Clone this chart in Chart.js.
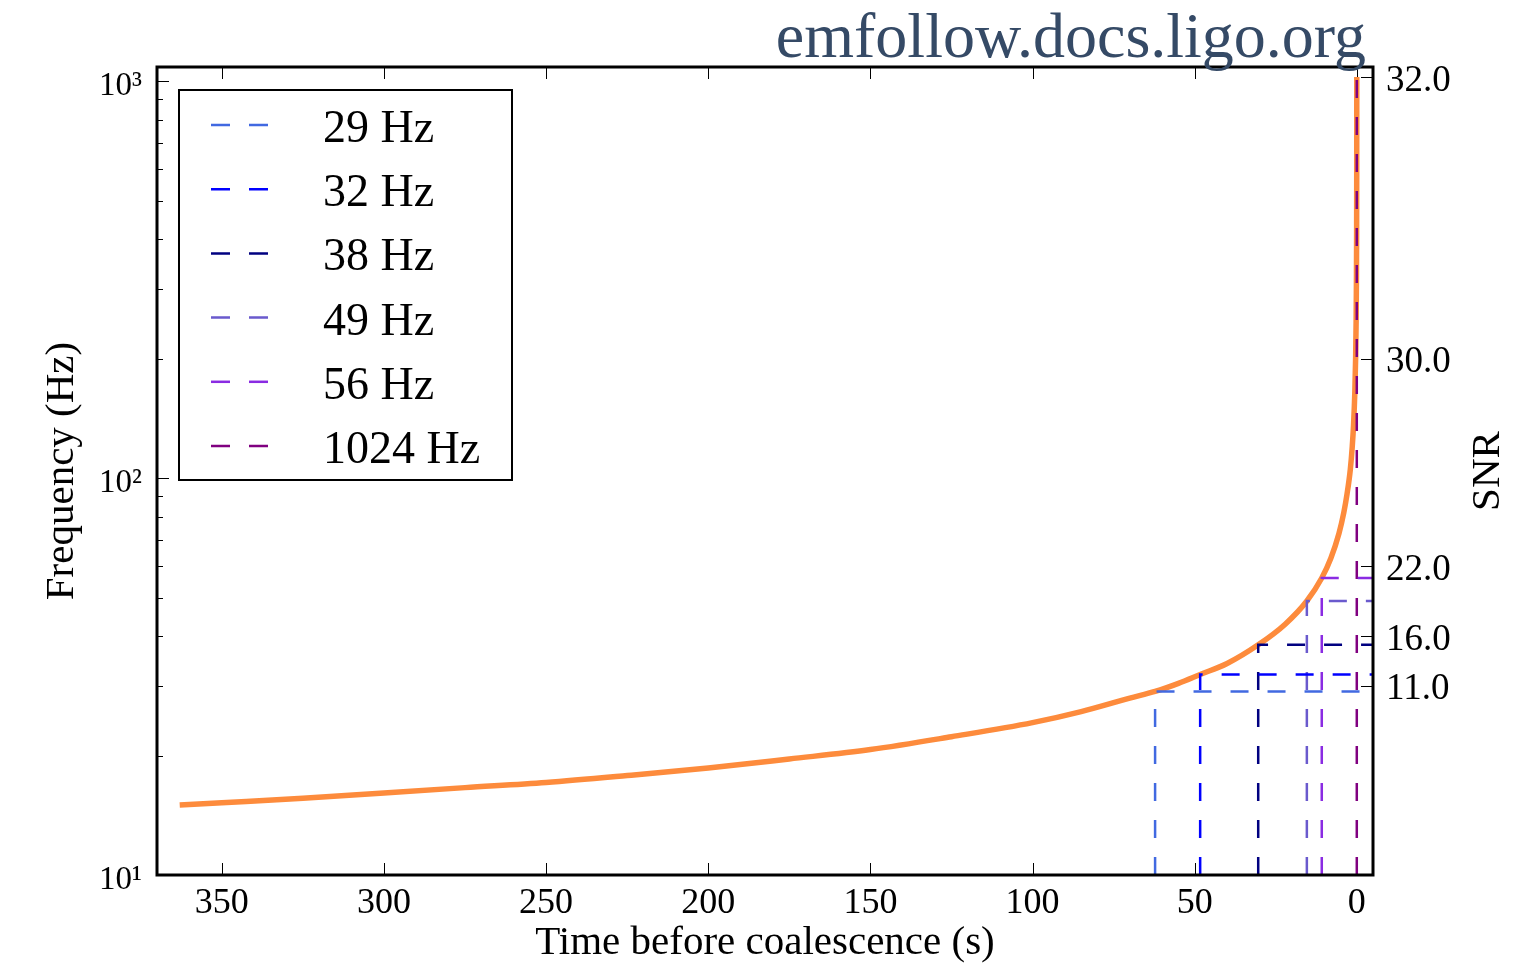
<!DOCTYPE html>
<html>
<head>
<meta charset="utf-8">
<title>Frequency vs time before coalescence</title>
<script src="https://cdn.jsdelivr.net/npm/chart.js@4.4.1/dist/chart.umd.min.js"></script>
<style>
  html, body { margin: 0; padding: 0; background: #fff; }
  #wrap { width: 1533px; height: 964px; }
</style>
</head>
<body>
<div id="wrap"><canvas id="chirpChart" width="1533" height="964"></canvas></div>
<script>
// chirp track: seconds before merger -> frequency (Hz)
const chirpTimes = [363, 350, 325, 300, 275, 250, 225, 200, 175, 150, 125, 100, 85, 70, 62.2, 55, 48.3, 40, 30.4, 22, 15.4, 10.8, 8, 5.5, 4, 3, 2, 1.4, 1, 0.6, 0.35, 0.2, 0.1, 0.05, 0.02, 0];
const chirpFreqs = [15.0, 15.2, 15.6, 16.1, 16.6, 17.1, 17.8, 18.6, 19.6, 20.7, 22.3, 24.2, 25.8, 27.9, 29, 30.4, 32, 34.1, 38, 42.9, 49, 56, 62.8, 72.5, 81.9, 91.2, 105, 120, 136, 165, 202, 249, 323, 420, 590, 1024];

// dashed markers: frequency reached, and when
const markerLabels = ["29 Hz", "32 Hz", "38 Hz", "49 Hz", "56 Hz", "1024 Hz"];
const markerFreqs = [29, 32, 38, 49, 56, 1024];
const markerTimes = [62.2, 48.3, 30.4, 15.4, 10.8, 0];
const markerColors = ["royalblue", "blue", "navy", "slateblue", "blueviolet", "purple"];

const timeTicks = [0, 50, 100, 150, 200, 250, 300, 350];
const freqTicks = [10, 100, 1000];
const freqTickLabels = ["10¹", "10²", "10³"];
const snrTickFreqs = [30, 40, 60, 200, 1024];
const snrTickLabels = ["11.0", "16.0", "22.0", "30.0", "32.0"];

const timeMin = -5, timeMax = 370;
const freqMin = 10, freqMax = 1085;

const serif = "'Liberation Serif', 'DejaVu Serif', serif";
Chart.defaults.font.family = serif;
Chart.defaults.color = "#000";

function logTicksWithMinors() {
    const out = [];
    for (let dec = freqMin; dec <= freqMax; dec *= 10) {
        for (let k = 1; k <= 9; k++) {
            const v = k * dec;
            if (v <= freqMax) out.push({ value: v, major: k === 1 });
        }
    }
    return out;
}

// matplotlib-ish frame: inward ticks, thick box, legend inside, watermark
const mplFrame = {
    id: "mplFrame",
    beforeDatasetsDraw(chart) {
        const { ctx, chartArea: a, scales } = chart;
        ctx.save();
        ctx.strokeStyle = "#000";
        ctx.lineWidth = 1;
        const seg = (x1, y1, x2, y2) => { ctx.beginPath(); ctx.moveTo(x1, y1); ctx.lineTo(x2, y2); ctx.stroke(); };

        scales.x.ticks.forEach(t => {
            const px = Math.round(scales.x.getPixelForValue(t.value)) + 0.5;
            seg(px, a.bottom, px, a.bottom - 12);
            seg(px, a.top, px, a.top + 12);
        });
        scales.y.ticks.forEach(t => {
            const py = Math.round(scales.y.getPixelForValue(t.value)) + 0.5;
            seg(a.left, py, a.left + (t.major ? 12 : 6), py);
        });
        scales.y1.ticks.forEach(t => {
            const py = Math.round(scales.y1.getPixelForValue(t.value)) + 0.5;
            seg(a.right, py, a.right - 12, py);
        });
        ctx.restore();
    },
    afterDatasetsDraw(chart) {
        const { ctx, chartArea: a } = chart;
        ctx.save();
        ctx.strokeStyle = "#000";
        ctx.lineWidth = 3;
        ctx.strokeRect(a.left, a.top, a.right - a.left, a.bottom - a.top);

        // legend box
        const lx = a.left + 22, ly = a.top + 23, lw = 333, lh = 390;
        ctx.fillStyle = "#fff";
        ctx.fillRect(lx, ly, lw, lh);
        ctx.lineWidth = 2;
        ctx.strokeRect(lx, ly, lw, lh);

        const items = chart.data.datasets.filter(d => d.label);
        ctx.font = "46px " + serif;
        ctx.textBaseline = "alphabetic";
        ctx.textAlign = "left";
        items.forEach((d, i) => {
            const rowY = ly + 35 + i * 64.2;
            ctx.strokeStyle = d.borderColor;
            ctx.lineWidth = 2.5;
            ctx.setLineDash([19, 19]);
            ctx.beginPath();
            ctx.moveTo(lx + 32, rowY);
            ctx.lineTo(lx + 89, rowY);
            ctx.stroke();
            ctx.setLineDash([]);
            ctx.fillStyle = "#000";
            ctx.fillText(d.label, lx + 144, rowY + 17);
        });
        ctx.restore();
    },
    afterDraw(chart) {
        const { ctx, chartArea: a } = chart;
        ctx.save();
        // right axis title, reading upward like matplotlib's twin axis
        ctx.translate(a.right + 115, (a.top + a.bottom) / 2);
        ctx.rotate(-Math.PI / 2);
        ctx.font = "41px " + serif;
        ctx.fillStyle = "#000";
        ctx.textAlign = "center";
        ctx.textBaseline = "middle";
        ctx.fillText("SNR", 0, 0);
        ctx.restore();

        ctx.save();
        ctx.font = "64px " + serif;
        ctx.fillStyle = "#354a66";
        ctx.textAlign = "right";
        ctx.textBaseline = "alphabetic";
        ctx.fillText("emfollow.docs.ligo.org", 1366, 57);
        ctx.restore();
    }
};

const datasets = [{
    label: "",
    data: chirpTimes.map((t, i) => ({ x: t, y: chirpFreqs[i] })),
    borderColor: "#fd8b3c",
    borderWidth: 5.5,
    pointRadius: 0,
    cubicInterpolationMode: "monotone",
    order: 1
}];

markerFreqs.forEach((f, i) => {
    datasets.push({
        label: markerLabels[i],
        data: [{ x: markerTimes[i], y: freqMin }, { x: markerTimes[i], y: f }, { x: timeMin, y: f }],
        borderColor: markerColors[i],
        borderWidth: 2.5,
        borderDash: [18, 19],
        pointRadius: 0,
        tension: 0,
        order: 0
    });
});

new Chart(document.getElementById("chirpChart"), {
    type: "line",
    data: { datasets },
    options: {
        responsive: false,
        animation: false,
        layout: { padding: { top: 67, left: 0, right: 0, bottom: 0 } },
        plugins: { legend: { display: false }, tooltip: { enabled: false } },
        scales: {
            x: {
                type: "linear",
                position: "bottom",
                reverse: true,
                min: timeMin,
                max: timeMax,
                grid: { display: false, drawTicks: false },
                border: { display: false },
                afterBuildTicks: axis => { axis.ticks = timeTicks.map(v => ({ value: v })); },
                afterFit: axis => { axis.height = 89; },
                ticks: { autoSkip: false, maxRotation: 0, padding: 7, font: { size: 36 }, callback: v => String(v) },
                title: { display: true, text: "Time before coalescence (s)", font: { size: 41 }, padding: { top: 0, bottom: -4 } }
            },
            y: {
                type: "logarithmic",
                position: "left",
                min: freqMin,
                max: freqMax,
                grid: { display: false, drawTicks: false },
                border: { display: false },
                afterBuildTicks: axis => { axis.ticks = logTicksWithMinors(); },
                afterFit: axis => { axis.width = 157; },
                ticks: {
                    autoSkip: false, padding: 15, labelOffset: 5, font: { size: 33 },
                    callback: v => { const i = freqTicks.indexOf(v); return i >= 0 ? freqTickLabels[i] : ""; }
                },
                title: { display: true, text: "Frequency (Hz)", font: { size: 41 }, padding: { top: 38, bottom: 0 } }
            },
            y1: {
                type: "logarithmic",
                position: "right",
                min: freqMin,
                max: freqMax,
                grid: { display: false, drawTicks: false },
                border: { display: false },
                afterBuildTicks: axis => { axis.ticks = snrTickFreqs.map(v => ({ value: v })); },
                afterFit: axis => { axis.width = 160; },
                ticks: {
                    autoSkip: false, padding: 13, labelOffset: 4, font: { size: 37 },
                    callback: v => { const i = snrTickFreqs.indexOf(v); return i >= 0 ? snrTickLabels[i] : ""; }
                }
            }
        }
    },
    plugins: [mplFrame]
});
</script>
</body>
</html>
